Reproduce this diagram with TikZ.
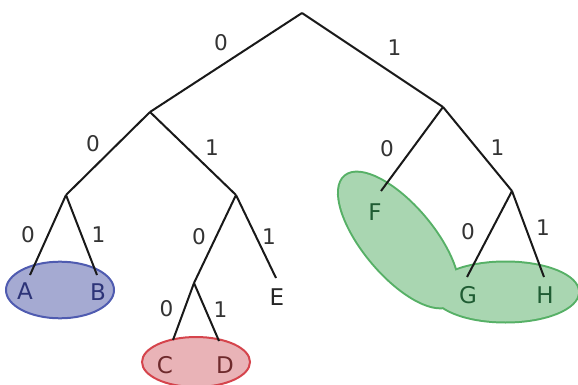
\documentclass[tikz,border=0pt]{standalone}
\usepackage{fontspec}
\setmainfont{DejaVu Sans}
\usetikzlibrary{positioning,shapes.geometric}
\definecolor{abfill}{HTML}{A5AAD2}
\definecolor{abline}{HTML}{4F5BB0}
\definecolor{abtext}{HTML}{2D3478}
\definecolor{cdfill}{HTML}{E9B3B7}
\definecolor{cdline}{HTML}{D5444C}
\definecolor{cdtext}{HTML}{6E2A2C}
\definecolor{fghfill}{HTML}{A9D6B1}
\definecolor{fghline}{HTML}{56B066}
\definecolor{fghtext}{HTML}{1F5C33}
\definecolor{bittext}{HTML}{333333}

\begin{document}
\begin{tikzpicture}[x=0.5pt, y=-0.5pt,
    branch/.style={draw=black!90, line width=1pt},
    bit/.style={font=\fontsize{10.8}{12}\selectfont, text=bittext, inner sep=0pt},
    leaf/.style={font=\fontsize{11.5}{13}\selectfont, inner sep=0pt},
    blob/.style={ellipse, inner sep=0pt, line width=1pt},
    fghedge/.style={draw=fghline, line width=2pt},
    fghbody/.style={fill=fghfill}
]
    \useasboundingbox (0,0) rectangle (578,385);

    % Groups
    \node[blob, draw=abline, fill=abfill, minimum width=54pt, minimum height=28.3pt] (ab) at (60,290) {};
    \node[blob, draw=cdline, fill=cdfill, minimum width=54pt, minimum height=25pt] (cd) at (196,362) {};
    \coordinate (fblob) at (398.5,240);
    \coordinate (ghblob) at (505.5,292);
    \draw[fghedge, rotate around={-50:(fblob)}] (fblob) ellipse [x radius=83, y radius=34.5];
    \draw[fghedge] (ghblob) ellipse [x radius=72.5, y radius=29.5];
    \fill[fghbody, rotate around={-50:(fblob)}] (fblob) ellipse [x radius=83, y radius=34.5];
    \fill[fghbody] (ghblob) ellipse [x radius=72.5, y radius=29.5];

    % Branch points
    \coordinate (root) at (302,13);
    \coordinate (n0) at (150,112);
    \coordinate (n1) at (443,107);
    \coordinate (n00) at (66,195);
    \coordinate (n01) at (236,195);
    \coordinate (n010) at (194,283);
    \coordinate (n11) at (512,191);

    % Leaf ends
    \coordinate (a) at (30,275);
    \coordinate (b) at (97,275);
    \coordinate (c) at (173,340);
    \coordinate (d) at (219,341);
    \coordinate (e) at (276,278);
    \coordinate (f) at (381,191);
    \coordinate (g) at (467,277);
    \coordinate (h) at (544,277);

    % Leaves
    \node[leaf, text=abtext] (A) at (25,291) {A};
    \node[leaf, text=abtext] (B) at (98,292) {B};
    \node[leaf, text=cdtext] (C) at (165,365) {C};
    \node[leaf, text=cdtext] (D) at (225,365) {D};
    \node[leaf, text=black!85] (E) at (277,297) {E};
    \node[leaf, text=fghtext] (F) at (375,212) {F};
    \node[leaf, text=fghtext] (G) at (468,295) {G};
    \node[leaf, text=fghtext] (H) at (545,295) {H};

    % Tree
    \draw[branch] (root) -- node[bit, shift={(-5,-19.5)}] {0} (n0);
    \draw[branch] (root) -- node[bit, shift={(22,-12)}] {1} (n1);
    \draw[branch] (n0) -- node[bit, shift={(-15,-9.5)}] {0} (n00);
    \draw[branch] (n0) -- node[bit, shift={(19,-6)}] {1} (n01);
    \draw[branch] (n1) -- node[bit, shift={(-25,0)}] {0} (f);
    \draw[branch] (n1) -- node[bit, shift={(20,-1)}] {1} (n11);
    \draw[branch] (n00) -- node[bit, shift={(-20,0)}] {0} (a);
    \draw[branch] (n00) -- node[bit, shift={(17,0)}] {1} (b);
    \draw[branch] (n01) -- node[bit, shift={(-16,-2)}] {0} (n010);
    \draw[branch] (n01) -- node[bit, shift={(13,0)}] {1} (e);
    \draw[branch] (n010) -- node[bit, shift={(-17,-3)}] {0} (c);
    \draw[branch] (n010) -- node[bit, shift={(14,-2)}] {1} (d);
    \draw[branch] (n11) -- node[bit, shift={(-21.5,-2)}] {0} (g);
    \draw[branch] (n11) -- node[bit, shift={(15,-6.5)}] {1} (h);

\end{tikzpicture}
\end{document}
